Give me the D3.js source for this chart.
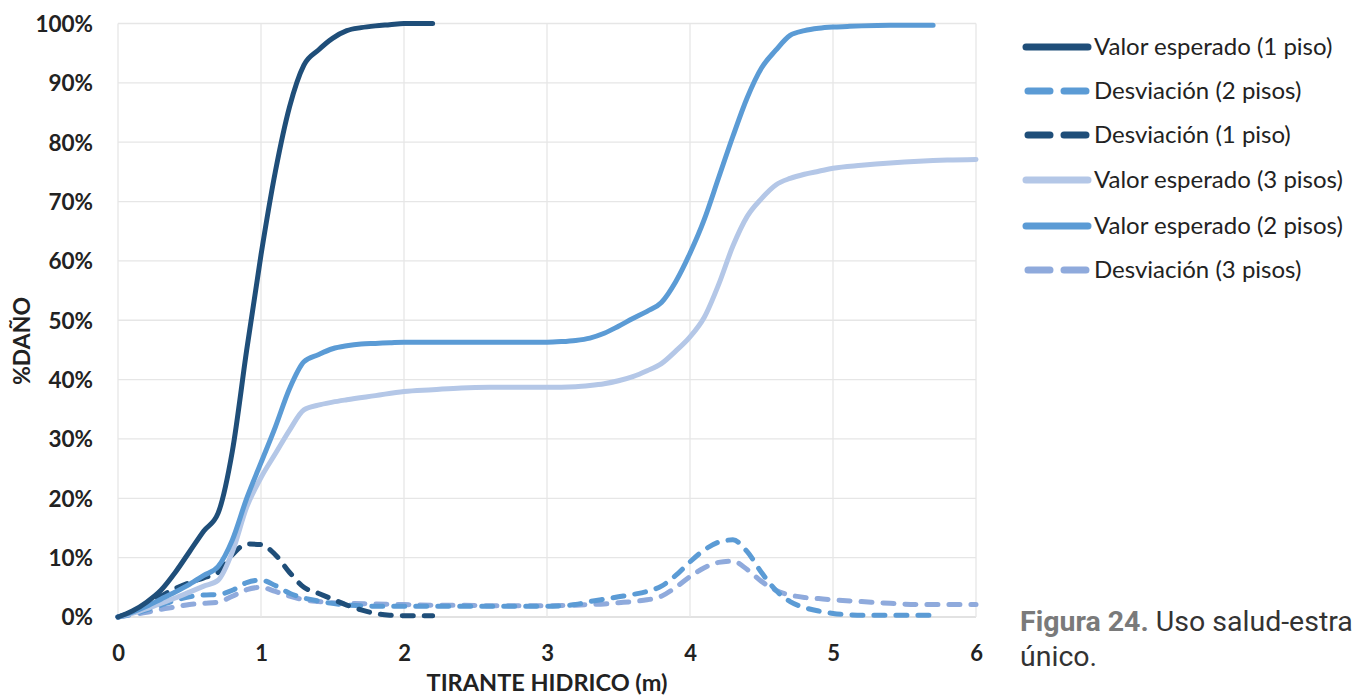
<!DOCTYPE html>
<html>
<head>
<meta charset="utf-8">
<script src="https://cdn.jsdelivr.net/npm/d3@7"></script>
<style>
html,body{margin:0;padding:0;background:#fff;overflow:hidden;}
svg{display:block;}
</style>
</head>
<body>
<svg id="chart" width="1361" height="696"></svg>
<script>
// ---- data ----
const xTicks = [0,1,2,3,4,5,6];
const yTicks = [0,10,20,30,40,50,60,70,80,90,100];

const x1 = [0,0.1,0.2,0.3,0.4,0.5,0.6,0.7,0.8,0.9,1.0,1.1,1.2,1.3,1.4,1.5,1.6,1.7,1.8,1.9,2.0,2.1,2.2];
const valor1 = [0,1,2.5,4.5,7.5,11,14.5,17.5,28,45,61,75,86,93,95.5,97.5,98.8,99.3,99.6,99.8,100,100,100];
const desv1  = [0,0.8,2,3.5,4.8,5.8,6.6,7.5,10.5,12.3,12.2,10.5,7.5,5,4,3,2,1.2,0.6,0.3,0.2,0.2,0.2];

const x2 = [0,0.1,0.2,0.3,0.4,0.5,0.6,0.7,0.8,0.9,1.0,1.1,1.2,1.3,1.4,1.5,1.6,1.7,1.8,1.9,2.0,2.2,2.4,2.6,2.8,3.0,3.1,3.2,3.3,3.4,3.5,3.6,3.7,3.8,3.9,4.0,4.1,4.2,4.3,4.4,4.5,4.6,4.7,4.8,4.9,5.0,5.1,5.2,5.4,5.7];
const valor2 = [0,0.8,1.8,3,4.2,5.5,7,8.5,13,20,26,32,38.5,43,44.2,45.2,45.7,46,46.1,46.2,46.3,46.3,46.3,46.3,46.3,46.3,46.4,46.6,47,47.8,49,50.3,51.5,53,56.5,61.3,67,74,81,87.5,92.5,95.5,98,98.8,99.2,99.4,99.5,99.6,99.7,99.7];
const desv2  = [0,0.5,1.2,2,2.8,3.4,3.7,3.8,4.5,5.8,6.2,5.3,4,3.2,2.7,2.3,2,1.9,1.8,1.8,1.8,1.8,1.8,1.8,1.8,1.8,1.9,2.1,2.6,3,3.4,3.8,4.3,5.2,7,9.3,11.3,12.6,13,11,7.5,4.5,2.6,1.6,1,0.6,0.4,0.3,0.3,0.3];

const x3 = [0,0.1,0.2,0.3,0.4,0.5,0.6,0.7,0.8,0.9,1.0,1.1,1.2,1.3,1.4,1.5,1.6,1.8,2.0,2.2,2.4,2.6,2.8,3.0,3.2,3.3,3.4,3.5,3.6,3.7,3.8,3.9,4.0,4.1,4.2,4.3,4.4,4.5,4.6,4.7,4.8,4.9,5.0,5.2,5.4,5.6,5.8,6.0];
const valor3 = [0,0.6,1.4,2.3,3.2,4.2,5.2,6.2,11,18.5,23.5,27.5,31.5,34.9,35.7,36.2,36.6,37.3,38,38.3,38.6,38.7,38.7,38.7,38.8,39,39.3,39.8,40.5,41.5,42.7,44.8,47.2,50.5,56,62.5,67.5,70.5,72.8,73.9,74.6,75.1,75.6,76.1,76.5,76.8,77,77.1];
const desv3  = [0,0.4,0.8,1.3,1.7,2.1,2.3,2.5,3.5,4.6,5,4.3,3.5,2.9,2.6,2.4,2.3,2.2,2.1,2.0,2.0,1.9,1.9,1.9,2.0,2.1,2.2,2.4,2.6,2.9,3.5,5,6.8,8.3,9.2,9.4,8,6,4.5,3.7,3.3,3.1,2.9,2.6,2.3,2.1,2.1,2.1];

const seriesNames = ["Valor esperado (1 piso)","Desviación (2 pisos)","Desviación (1 piso)","Valor esperado (3 pisos)","Valor esperado (2 pisos)","Desviación (3 pisos)"];
const seriesX = [x1,x2,x1,x3,x2,x3];
const seriesY = [valor1,desv2,desv1,valor3,valor2,desv3];
const seriesColor = ["#1f4e79","#5b9bd5","#1f4e79","#b4c7e7","#5b9bd5","#8faadc"];
const seriesDashed = [false,true,true,false,false,true];
// drawing order (back to front)
const drawOrder = [5,1,2,3,4,0];

// ---- layout ----
const svg = d3.select("#chart");
const pL = 118, pR = 976, pT = 23.5, pB = 617;
const x = d3.scaleLinear().domain([0,6]).range([pL,pR]);
const y = d3.scaleLinear().domain([0,100]).range([pB,pT]);
const tickFont = "Lato, 'Open Sans', sans-serif";

// gridlines
const g = svg.append("g");
g.selectAll("line.h").data(yTicks).enter().append("line")
  .attr("x1",pL).attr("x2",pR)
  .attr("y1",d=>y(d)).attr("y2",d=>y(d))
  .attr("stroke",d=>d===0?"#d9d9d9":"#e6e6e6").attr("stroke-width",1.3);
g.selectAll("line.v").data(xTicks).enter().append("line")
  .attr("x1",d=>x(d)).attr("x2",d=>x(d))
  .attr("y1",pT).attr("y2",pB)
  .attr("stroke","#e6e6e6").attr("stroke-width",1.3);

// y axis labels
const yAxis = d3.axisLeft(y).tickValues(yTicks).tickFormat(d=>d+"%").tickSize(0).tickPadding(0);
const ya = svg.append("g").attr("transform","translate(93,0)").call(yAxis);
ya.select(".domain").remove();
ya.selectAll("text").attr("font-family",tickFont).attr("font-weight","bold")
  .attr("font-size",22.5).attr("fill","#222").attr("dy","0.35em");

// x axis labels
const xAxis = d3.axisBottom(x).tickValues(xTicks).tickFormat(d3.format("d")).tickSize(0).tickPadding(0);
const xa = svg.append("g").attr("transform","translate(0,653)").call(xAxis);
xa.select(".domain").remove();
xa.selectAll("text").attr("font-family",tickFont).attr("font-weight","bold")
  .attr("font-size",22).attr("fill","#222").attr("dy","0.35em");

// axis titles
svg.append("text").attr("x",547).attr("y",683).attr("dy","0.35em").attr("text-anchor","middle")
  .attr("font-family",tickFont).attr("font-weight","bold").attr("font-size",23.5).attr("fill","#222")
  .text("TIRANTE HIDRICO (m)");
svg.append("text").attr("transform","translate(22,341) rotate(-90)").attr("dy","0.35em").attr("text-anchor","middle")
  .attr("font-family",tickFont).attr("font-weight","bold").attr("font-size",23).attr("fill","#222")
  .text("%DAÑO");

// lines
const line = d3.line().x(d=>x(d[0])).y(d=>y(d[1])).curve(d3.curveMonotoneX);
drawOrder.forEach(i=>{
  const pts = seriesX[i].map((xv,k)=>[xv,seriesY[i][k]]);
  svg.append("path").datum(pts).attr("d",line)
    .attr("fill","none").attr("stroke",seriesColor[i]).attr("stroke-width",5)
    .attr("stroke-linecap","round").attr("stroke-linejoin","round")
    .attr("stroke-dasharray",seriesDashed[i]?"11,11":null);
});

// legend
const legY = [47,91,135,180,226,270];
const lg = svg.append("g");
seriesNames.forEach((name,i)=>{
  if(seriesDashed[i]){
    lg.append("line").attr("x1",1028).attr("x2",1086).attr("y1",legY[i]).attr("y2",legY[i])
      .attr("stroke",seriesColor[i]).attr("stroke-width",7).attr("stroke-linecap","round")
      .attr("stroke-dasharray","22,14");
  } else {
    lg.append("line").attr("x1",1026).attr("x2",1088).attr("y1",legY[i]).attr("y2",legY[i])
      .attr("stroke",seriesColor[i]).attr("stroke-width",7).attr("stroke-linecap","round");
  }
  lg.append("text").attr("x",1094).attr("y",legY[i]).attr("dy","0.35em")
    .attr("font-family",tickFont).attr("font-size",24).attr("fill","#222").text(name);
});

// caption
const cap = svg.append("text").attr("x",1020).attr("y",631)
  .attr("font-family","Roboto, sans-serif").attr("font-size",28.5);
cap.append("tspan").attr("font-weight","bold").attr("fill","#7a7a7a").text("Figura 24.");
cap.append("tspan").attr("fill","#333").text(" Uso salud-estra");
svg.append("text").attr("x",1020).attr("y",666)
  .attr("font-family","Roboto, sans-serif").attr("font-size",28.5).attr("fill","#333").text("único.");
</script>
</body>
</html>
